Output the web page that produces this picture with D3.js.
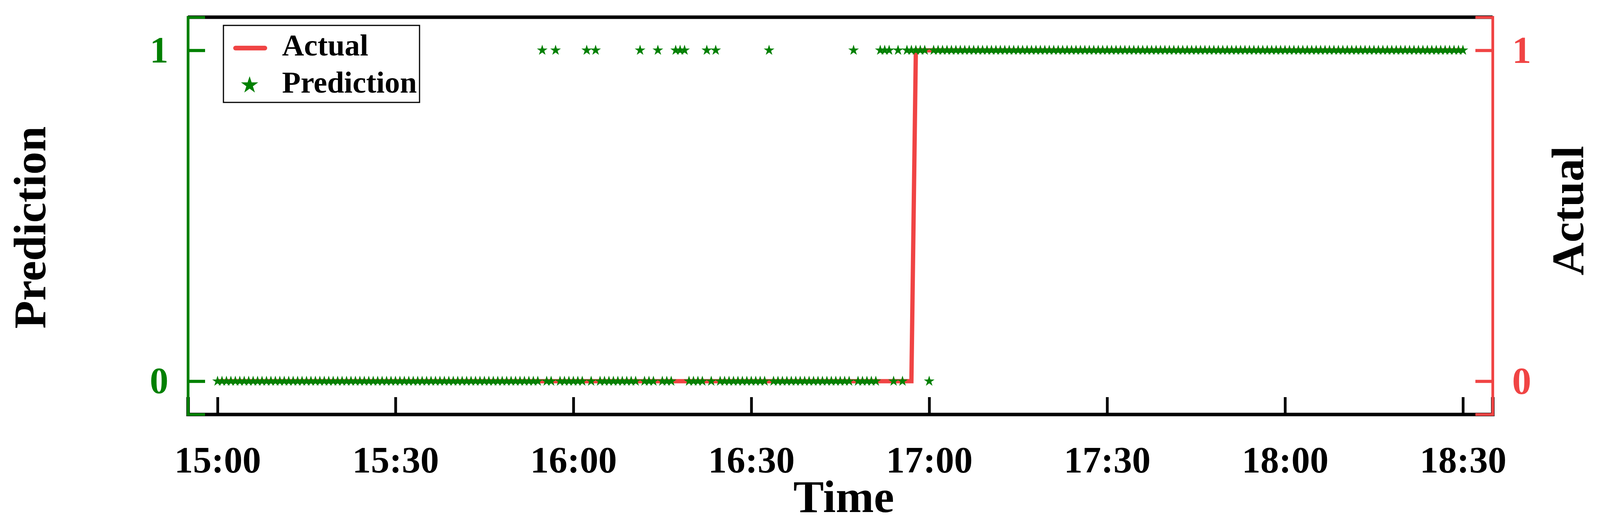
<!DOCTYPE html>
<html>
<head>
<meta charset="utf-8">
<script src="https://cdn.jsdelivr.net/npm/d3@7"></script>
<style>
  body { margin: 0; background: #fff; }
  text { font-family: "Liberation Serif", "Times New Roman", serif; font-weight: bold; }
</style>
</head>
<body>
<script>
// Échantillons toutes les 45 s entre 15:00 et 18:30
const stepSec = 45
const nSamples = 281
// Indices des échantillons où la prédiction vaut 1 avant le basculement
const predOnesEarly = [73, 76, 83, 85, 95, 99, 103, 104, 105, 110, 112, 124, 143, 149, 150, 151, 153]
// À partir de cet indice la prédiction vaut 1 (sauf exceptions)
const predOnesFrom = 155
const predZerosLate = [160]
// Basculement de la valeur réelle
const actualStepIndex = 157
const xTicks = ["15:00", "15:30", "16:00", "16:30", "17:00", "17:30", "18:00", "18:30"]
const yTicks = [0, 1]

const t0 = new Date(2020, 0, 1, 15, 0, 0)
const times = d3.range(nSamples).map(i => new Date(t0.getTime() + i * stepSec * 1000))
const prediction = times.map((t, i) =>
  (predOnesEarly.includes(i) || (i >= predOnesFrom && !predZerosLate.includes(i))) ? 1 : 0)
const actual = times.map((t, i) => i >= actualStepIndex ? 1 : 0)

const W = 4103, H = 1356
const margin = { left: 481, right: W - 3821, top: 44, bottom: H - 1060 }
const green = "#008000", red = "#f04444"

const svg = d3.select("body").append("svg").attr("width", W).attr("height", H)

const x = d3.scaleTime()
  .domain([new Date(2020, 0, 1, 14, 55), new Date(2020, 0, 1, 18, 35)])
  .range([margin.left, W - margin.right])
const y = d3.scaleLinear().domain([-0.1, 1.1]).range([H - margin.bottom, margin.top])

const parseHM = d3.timeParse("%H:%M")
const tickDates = xTicks.map(s => { const d = parseHM(s); return new Date(2020, 0, 1, d.getHours(), d.getMinutes()) })

// Données
svg.append("path")
  .datum(actual)
  .attr("fill", "none")
  .attr("stroke", red)
  .attr("stroke-width", 11)
  .attr("d", d3.line().x((d, i) => x(times[i])).y(d => y(d)))

const star = d3.symbol().type(d3.symbolStar).size(230)
svg.append("g").selectAll("path")
  .data(prediction)
  .join("path")
  .attr("transform", (d, i) => `translate(${x(times[i])},${y(d)})`)
  .attr("d", star)
  .attr("fill", green)

// Axes
const gx = svg.append("g")
  .attr("transform", `translate(0,${H - margin.bottom})`)
  .call(d3.axisBottom(x).tickValues(tickDates).tickFormat(d3.timeFormat("%H:%M")).tickSize(-44).tickPadding(82))
gx.selectAll("text").attr("font-size", 95).attr("fill", "#000").attr("font-family", "Liberation Serif").attr("font-weight", "bold")
gx.selectAll("line").attr("stroke", "#000").attr("stroke-width", 7)
gx.select(".domain").attr("stroke", "#000").attr("stroke-width", 9)

svg.append("line")
  .attr("x1", margin.left).attr("x2", W - margin.right)
  .attr("y1", margin.top).attr("y2", margin.top)
  .attr("stroke", "#000").attr("stroke-width", 9)

const gl = svg.append("g")
  .attr("transform", `translate(${margin.left},0)`)
  .call(d3.axisLeft(y).tickValues(yTicks).tickFormat(d3.format("d")).tickSize(-44).tickPadding(50))
gl.selectAll("text").attr("font-size", 95).attr("fill", green).attr("font-family", "Liberation Serif").attr("font-weight", "bold")
gl.selectAll("line").attr("stroke", green).attr("stroke-width", 8)
gl.select(".domain").attr("stroke", green).attr("stroke-width", 7)

const gr = svg.append("g")
  .attr("transform", `translate(${W - margin.right},0)`)
  .call(d3.axisRight(y).tickValues(yTicks).tickFormat(d3.format("d")).tickSize(-44).tickPadding(50))
gr.selectAll("text").attr("font-size", 98).attr("fill", red).attr("font-family", "Liberation Sans").attr("font-weight", "normal")
gr.selectAll("line").attr("stroke", red).attr("stroke-width", 8)
gr.select(".domain").attr("stroke", red).attr("stroke-width", 7)
svg.selectAll(".domain").attr("d", function () {
  return d3.select(this).attr("d").replace(/^M[^V]*V/, m => m)
})

// Titres
svg.append("text").attr("x", 2160).attr("y", 1310).attr("text-anchor", "middle")
  .attr("font-size", 117).text("Time")
svg.append("text").attr("transform", "translate(116,582) rotate(-90)").attr("text-anchor", "middle")
  .attr("font-size", 117).text("Prediction")
svg.append("text").attr("transform", "translate(4053,539) rotate(-90)").attr("text-anchor", "middle")
  .attr("font-size", 117).text("Actual")

// Légende
const lg = svg.append("g")
lg.append("rect").attr("x", 572).attr("y", 65).attr("width", 502).attr("height", 197)
  .attr("fill", "#fff").attr("stroke", "#000").attr("stroke-width", 3)
lg.append("line").attr("x1", 603).attr("x2", 678).attr("y1", 123).attr("y2", 123)
  .attr("stroke", red).attr("stroke-width", 12).attr("stroke-linecap", "round")
lg.append("path").attr("transform", "translate(639,218)").attr("d", d3.symbol().type(d3.symbolStar).size(600)).attr("fill", green)
lg.append("text").attr("x", 722).attr("y", 142).attr("font-size", 78).text("Actual")
lg.append("text").attr("x", 722).attr("y", 237).attr("font-size", 78).text("Prediction")
</script>
</body>
</html>
